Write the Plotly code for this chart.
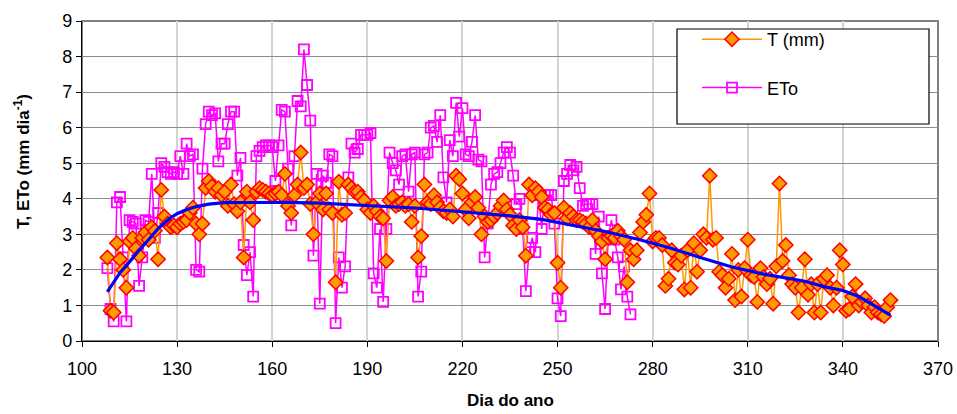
import plotly.graph_objects as go

T_START = 108
T_VALUES = [
    2.35, 0.85, 0.8, 2.75, 2.3, 2.0, 1.5, 2.8, 2.9, 2.6,
    2.4, 2.9, 3.05, 2.85, 3.2, 3.1, 2.3, 4.25, 3.5, 3.3,
    3.2, 3.25, 3.2, 3.3, 3.35, 3.4, 3.6, 3.75, 3.3, 3.0,
    3.3, 4.3, 4.5, 4.35, 4.2, 4.3, 4.1, 4.2, 3.8, 4.4,
    3.85, 3.65, 3.9, 2.35, 4.2, 3.9, 3.4, 4.2, 4.3, 4.25,
    4.2, 4.15, 4.1, 4.15, 4.2, 4.1, 4.7, 3.8, 3.6, 4.1,
    4.4, 5.3, 4.3, 4.4, 3.85, 3.0, 3.9, 4.15, 3.7, 4.15,
    3.7, 3.6, 1.65, 4.48, 3.55, 3.6, 4.4, 4.3, 4.2, 4.2,
    4.05, 3.95, 3.7, 3.6, 3.8, 3.65, 3.5, 3.45, 2.25, 3.95,
    4.05, 3.8, 3.85, 3.9, 3.8, 3.85, 3.35, 3.8, 2.35, 2.95,
    4.4, 3.9, 3.85, 4.1, 3.9, 3.75, 3.65, 3.6, 3.7, 3.5,
    4.65, 4.55, 4.15, 3.7, 3.45, 3.9, 4.05, 3.75, 3.0, 3.5,
    3.35, 3.4, 3.5, 3.6, 3.8, 3.95, 3.7, 3.55, 3.25, 3.15,
    3.4, 3.2, 2.4, 4.4, 4.1, 4.3, 4.2, 4.05, 3.75, 3.7,
    3.55, 3.6, 2.2, 1.5, 3.75, 3.45, 3.6, 3.5, 3.4, 3.4,
    3.35, 3.3, 3.2, 3.4, 3.1, 2.95, 2.8, 2.3, 2.9, 2.95,
    2.9, 3.1, 2.95, 2.85, 1.65, 2.55, 2.3, 2.55, 3.05, 3.35,
    3.55, 4.15, 2.8, 2.9, 2.9, 2.7, 1.55, 1.75, 2.55, 2.2,
    2.15, 2.4, 1.45, 2.55, 1.5, 2.75, 1.95, 2.55, 3.0, 2.9,
    4.65, 2.85, 2.9, 1.95, 1.85, 1.5, 1.75, 2.45, 1.15, 2.0,
    1.25, 2.05, 2.85, 1.85, 1.8, 1.1, 2.05, 1.8, 1.6, 1.75,
    1.05, 2.1, 4.43, 2.25, 2.7, 1.85, 1.6, 1.5, 0.8, 1.5,
    2.3, 1.3, 1.6, 0.8, 1.6, 0.8, 1.75, 1.85, 1.5, 1.0,
    1.5, 2.55, 2.15, 0.85, 0.9, 1.25, 1.6, 1.0, 1.1, 1.2,
    1.0, 0.8, 0.95, 0.8, 0.75, 0.7, 0.95, 1.15,
]

ETO_START = 108
ETO_VALUES = [
    2.05, 0.9, 0.55, 3.9, 4.05, 2.35, 0.55, 3.4, 3.35, 3.3,
    1.55, 2.35, 3.4, 3.35, 4.7, 2.9, 3.6, 5.0, 4.9, 4.75,
    4.7, 4.75, 4.7, 5.2, 4.7, 5.55, 5.2, 5.25, 2.0, 1.95,
    4.85, 6.1, 6.45, 6.35, 6.4, 5.05, 5.55, 5.55, 6.1, 6.45,
    6.45, 4.65, 5.15, 2.7, 1.85, 2.5, 1.25, 5.2, 5.35, 5.45,
    5.5, 5.5, 5.45, 4.5, 5.5, 6.5, 6.45, 4.85, 3.25, 5.2,
    6.75, 6.6, 8.2, 7.2, 6.2, 2.4, 4.7, 1.05, 4.65, 4.45,
    5.25, 5.2, 0.5, 2.35, 1.5, 2.1, 4.6, 5.55, 5.3, 5.4,
    5.8, 5.8, 5.8, 5.85, 1.9, 1.5, 3.15, 1.1, 3.15, 5.3,
    5.0, 4.8, 4.4, 5.2, 5.25, 4.2, 5.25, 5.3, 1.25, 1.95,
    5.25, 5.3, 6.0, 6.05, 5.6, 6.35, 4.6, 3.9, 5.65, 5.2,
    6.7, 5.75, 6.55, 5.25, 5.2, 5.6, 6.35, 5.1, 5.05, 2.35,
    3.3, 4.4, 4.7, 4.75, 5.0, 5.3, 5.45, 5.3, 4.65, 3.85,
    4.0, 3.15, 1.4, 2.5, 2.9, 2.5, 4.1, 3.15, 4.1, 4.1,
    4.1, 3.3, 1.2, 0.7, 4.5, 4.7, 4.95, 4.8, 4.9, 4.3,
    3.8, 3.85, 3.85, 3.85, 2.45, 3.5, 1.9, 0.9, 2.95, 3.4,
    2.85, 2.35, 1.45, 2.1, 1.25, 0.75,
]

TREND_DAYS = [108, 110, 112, 114, 116, 118, 120, 122, 124, 126, 128, 130,
              133, 136, 140, 145, 155, 165, 175, 185, 195, 205, 215, 225,
              235, 245, 255, 265, 275, 285, 295, 305, 315, 322, 328, 334,
              340, 345, 350, 355]
TREND_VALUES = [1.38, 1.65, 1.92, 2.12, 2.35, 2.55, 2.75, 2.97, 3.16, 3.32,
                3.47, 3.58, 3.7, 3.78, 3.85, 3.89, 3.9, 3.9, 3.88, 3.84, 3.8,
                3.74, 3.67, 3.6, 3.52, 3.42, 3.26, 3.08, 2.87, 2.63, 2.35,
                2.08, 1.88, 1.78, 1.68, 1.53, 1.42, 1.25, 1.0, 0.73]

X_TICKS = [100, 130, 160, 190, 220, 250, 280, 310, 340, 370]
Y_TICKS = [0, 1, 2, 3, 4, 5, 6, 7, 8, 9]

t_days = list(range(T_START, T_START + len(T_VALUES)))
eto_days = list(range(ETO_START, ETO_START + len(ETO_VALUES)))

FONT = "Liberation Sans, Arial, sans-serif"

PLOT_L, PLOT_R, PLOT_T, PLOT_B = 82, 938, 21, 341
PW, PH = PLOT_R - PLOT_L, PLOT_B - PLOT_T
FIG_W, FIG_H = 957, 414

fig = go.Figure()

fig.add_trace(go.Scatter(
    x=eto_days, y=ETO_VALUES, mode="lines+markers", name="ETo",
    line=dict(color="#FF00FF", width=1.5),
    marker=dict(symbol="square-open", size=10, color="#FF00FF",
                line=dict(color="#FF00FF", width=1.8)),
    legendrank=2, legendgroup="b",
))
fig.add_trace(go.Scatter(
    x=t_days, y=T_VALUES, mode="lines+markers", name="T (mm)",
    line=dict(color="#FF9900", width=1.5),
    marker=dict(symbol="diamond", size=11, color="#FF9900",
                line=dict(color="#FF0000", width=1.5)),
    legendrank=1, legendgroup="a",
))
fig.add_trace(go.Scatter(
    x=TREND_DAYS, y=TREND_VALUES, mode="lines", showlegend=False,
    line=dict(color="#0000FF", width=3.2, shape="linear"),
))

fig.update_layout(
    width=FIG_W, height=FIG_H,
    margin=dict(l=PLOT_L, r=FIG_W - PLOT_R, t=PLOT_T, b=FIG_H - PLOT_B),
    paper_bgcolor="white", plot_bgcolor="white",
    font=dict(family=FONT, color="black", size=16),
    showlegend=True,
    legend=dict(
        x=(697 - PLOT_L) / PW, y=1.0, xanchor="left", yanchor="top",
        bgcolor="rgba(0,0,0,0)", borderwidth=0,
        font=dict(family=FONT, size=18, color="black"),
        traceorder="grouped", tracegroupgap=22,
        itemwidth=60,
    ),
    shapes=[
        dict(type="rect", xref="paper", yref="paper", x0=0, x1=1, y0=0, y1=1,
             line=dict(color="#808080", width=2), layer="below"),
        dict(type="rect", xref="paper", yref="paper",
             x0=(677 - PLOT_L) / PW, x1=(929 - PLOT_L) / PW,
             y0=(PLOT_B - 124) / PH, y1=(PLOT_B - 29) / PH,
             line=dict(color="black", width=1.2), fillcolor="white",
             layer="above"),
    ],
    annotations=[
        dict(text="<b>T, ETo (mm dia<sup>-1</sup>)</b>", textangle=-90,
             xref="paper", yref="paper", x=0, y=(PLOT_B - 162) / PH,
             xanchor="center", yanchor="middle", xshift=-(PLOT_L - 22),
             showarrow=False, font=dict(family=FONT, size=17)),
        dict(text="<b>Dia do ano</b>",
             xref="paper", yref="paper", x=0.5, y=0,
             xanchor="center", yanchor="middle", yshift=-(400 - PLOT_B),
             showarrow=False, font=dict(family=FONT, size=17)),
    ],
)

fig.update_xaxes(
    range=[100, 370], tickvals=X_TICKS, ticktext=[str(v) for v in X_TICKS],
    automargin=False, ticklabeloverflow="allow",
    showgrid=True, gridcolor="#D3D3D3", gridwidth=1.5,
    showline=True, linecolor="black", linewidth=1.2, zeroline=False,
    ticks="outside", ticklen=5, tickcolor="black", ticklabelstandoff=6,
    tickfont=dict(family=FONT, size=18),
)
fig.update_yaxes(
    range=[0, 9], tickvals=Y_TICKS, ticktext=[str(v) for v in Y_TICKS],
    automargin=False, ticklabeloverflow="allow",
    showgrid=True, gridcolor="#8C8C8C", gridwidth=1.2,
    showline=True, linecolor="black", linewidth=1.2, zeroline=False,
    ticks="outside", ticklen=5, tickcolor="black",
    tickfont=dict(family=FONT, size=18),
)

fig.write_html(
    "out.html",
    config={"displayModeBar": False},
    post_script="document.body.style.margin='0';document.body.style.overflow='hidden';",
)
